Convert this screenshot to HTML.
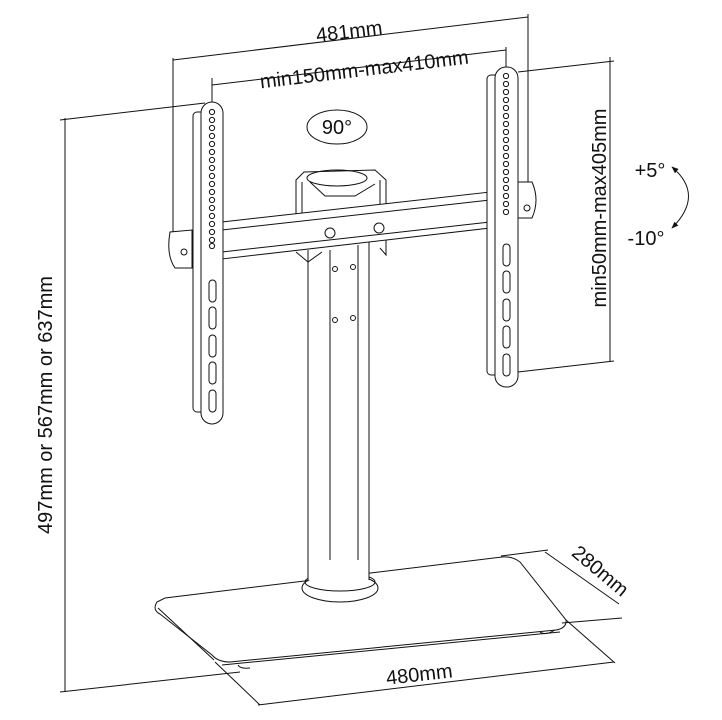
<!DOCTYPE html>
<html><head><meta charset="utf-8"><style>
html,body{margin:0;padding:0;background:#fff}
svg{display:block}
text{font-family:"Liberation Sans","DejaVu Sans",sans-serif;fill:#111}
</style></head><body>
<svg width="722" height="720" viewBox="0 0 722 720" xmlns="http://www.w3.org/2000/svg">
<defs>
<marker id="ah" viewBox="0 0 10 10" refX="9" refY="5" markerWidth="7" markerHeight="7" orient="auto-start-reverse"><path d="M0,1 L10,5 L0,9 z" fill="#111"/></marker>
</defs>
<g fill="none" stroke="#111" stroke-width="1">
<line x1="173" y1="58" x2="173" y2="232"/>
<line x1="528" y1="14" x2="528" y2="190"/>
<line x1="173" y1="60" x2="528" y2="17"/>
<line x1="212" y1="78" x2="212" y2="104"/>
<line x1="506" y1="47" x2="506" y2="72"/>
<line x1="212" y1="85" x2="506" y2="50"/>
<line x1="65" y1="118" x2="65" y2="692"/>
<line x1="60" y1="120" x2="205" y2="103"/>
<line x1="60" y1="692" x2="240" y2="672"/>
<line x1="610" y1="57" x2="610" y2="362"/>
<line x1="518" y1="72" x2="614" y2="61"/>
<line x1="518" y1="372" x2="614" y2="361"/>
<ellipse cx="337" cy="127" rx="30" ry="17"/>
<path d="M672,167 Q705,195 672,228" marker-start="url(#ah)" marker-end="url(#ah)"/>
<line x1="308" y1="250" x2="308" y2="580"/>
<line x1="369" y1="240" x2="369" y2="580"/>
<line x1="330" y1="250" x2="330" y2="580"/>
<line x1="358" y1="245" x2="358" y2="580"/>
<circle cx="335" cy="269" r="2.5"/><circle cx="353" cy="267" r="2.5"/>
<circle cx="335" cy="320" r="2.5"/><circle cx="353" cy="318" r="2.5"/>
<path d="M296,252 L308,262 L322,252"/><path d="M380,248 L386,255 L386,230"/>
<path d="M296,215 L296,180 L304,172 L375,170 L386,180 L386,210"/>
<ellipse cx="337" cy="178" rx="30" ry="8"/>
<path d="M310,182 L325,196 L355,196 L375,184"/>
<line x1="302" y1="182" x2="302" y2="213"/><line x1="380" y1="180" x2="380" y2="208"/>
<path d="M222,222 L490,192 L490,228 L222,259 Z" fill="#fff"/>
<line x1="222" y1="230" x2="490" y2="200"/>
<line x1="222" y1="252" x2="490" y2="222"/>
<circle cx="330" cy="233" r="5"/><circle cx="379" cy="228" r="5"/>
<rect x="193" y="112" width="12" height="300" rx="4" fill="#fff"/>
<rect x="201" y="102" width="22" height="322" rx="11" fill="#fff"/>
<path d="M170,232 Q166,255 175,268 L192,268 L192,230 Z" fill="#fff"/>
<circle cx="184" cy="252" r="3"/>
<rect x="487" y="75" width="12" height="300" rx="4" fill="#fff"/>
<rect x="495" y="67" width="23" height="320" rx="11" fill="#fff"/>
<path d="M518,182 L532,182 Q540,200 532,218 L518,218 Z" fill="#fff"/>
<circle cx="527" cy="208" r="3"/>
<path d="M157,602 Q152,610 160,614 L212,655 Q218,662 230,662 L556,630 Q567,628 566,620 L520,562 Q512,556 502,557 L165,598 Z" fill="#fff"/>
<path d="M158,608 L214,660 M222,665 L560,632"/>
<ellipse cx="340" cy="588" rx="38" ry="14" fill="#fff"/>
<ellipse cx="340" cy="582" rx="35" ry="9"/>
<rect x="308" y="560" width="61" height="20" fill="#fff" stroke="none"/>
<line x1="308" y1="560" x2="308" y2="580"/><line x1="369" y1="560" x2="369" y2="580"/>
<path d="M238,665 Q240,669 250,668"/><path d="M540,632 Q545,636 555,630"/>
<line x1="545" y1="552" x2="619" y2="604"/>
<line x1="501" y1="556" x2="548" y2="550"/>
<line x1="562" y1="623" x2="622" y2="618"/>
<line x1="258" y1="705" x2="614" y2="662"/>
<line x1="215" y1="662" x2="260" y2="705"/>
<line x1="566" y1="620" x2="615" y2="663"/>
</g>
<g fill="none" stroke="#111" stroke-width="1">
<circle cx="212" cy="112" r="2.6"/><circle cx="212" cy="120" r="2.6"/><circle cx="212" cy="128" r="2.6"/><circle cx="212" cy="136" r="2.6"/><circle cx="212" cy="144" r="2.6"/><circle cx="212" cy="152" r="2.6"/><circle cx="212" cy="160" r="2.6"/><circle cx="212" cy="168" r="2.6"/><circle cx="212" cy="176" r="2.6"/><circle cx="212" cy="184" r="2.6"/><circle cx="212" cy="192" r="2.6"/><circle cx="212" cy="200" r="2.6"/><circle cx="212" cy="208" r="2.6"/><circle cx="212" cy="216" r="2.6"/><circle cx="212" cy="224" r="2.6"/><circle cx="212" cy="232" r="2.6"/><circle cx="212" cy="240" r="2.6"/><circle cx="212" cy="246" r="2.6"/>
<rect x="209" y="280" width="7" height="22" rx="3.5"/><rect x="209" y="307" width="7" height="22" rx="3.5"/><rect x="209" y="335" width="7" height="22" rx="3.5"/><rect x="209" y="362" width="7" height="22" rx="3.5"/><rect x="209" y="390" width="7" height="22" rx="3.5"/>
<g transform="translate(294,-36)">
<circle cx="212" cy="112" r="2.6"/><circle cx="212" cy="120" r="2.6"/><circle cx="212" cy="128" r="2.6"/><circle cx="212" cy="136" r="2.6"/><circle cx="212" cy="144" r="2.6"/><circle cx="212" cy="152" r="2.6"/><circle cx="212" cy="160" r="2.6"/><circle cx="212" cy="168" r="2.6"/><circle cx="212" cy="176" r="2.6"/><circle cx="212" cy="184" r="2.6"/><circle cx="212" cy="192" r="2.6"/><circle cx="212" cy="200" r="2.6"/><circle cx="212" cy="208" r="2.6"/><circle cx="212" cy="216" r="2.6"/><circle cx="212" cy="224" r="2.6"/><circle cx="212" cy="232" r="2.6"/><circle cx="212" cy="240" r="2.6"/><circle cx="212" cy="248" r="2.6"/>
<rect x="209" y="280" width="7" height="22" rx="3.5"/><rect x="209" y="307" width="7" height="22" rx="3.5"/><rect x="209" y="335" width="7" height="22" rx="3.5"/><rect x="209" y="362" width="7" height="22" rx="3.5"/><rect x="209" y="390" width="7" height="22" rx="3.5"/>
</g>
</g>
<text x="350" y="38" font-size="20" text-anchor="middle" transform="rotate(-6.9 350 38)">481mm</text>
<text x="365" y="76" font-size="20" text-anchor="middle" transform="rotate(-6.8 365 76)">min150mm-max410mm</text>
<text x="337" y="134" font-size="20" text-anchor="middle">90°</text>
<text x="650" y="177" font-size="20" text-anchor="middle">+5°</text>
<text x="646" y="245" font-size="20" text-anchor="middle">-10°</text>
<text x="0" y="0" font-size="20" text-anchor="middle" transform="translate(606,208) rotate(-90)">min50mm-max405mm</text>
<text x="0" y="0" font-size="20" text-anchor="middle" transform="translate(52,405) rotate(-90)">497mm or 567mm or 637mm</text>
<text x="420" y="681" font-size="20" text-anchor="middle" transform="rotate(-6.5 420 681)">480mm</text>
<text x="0" y="0" font-size="20" text-anchor="middle" transform="translate(596,576) rotate(40)">280mm</text>
</svg>
</body></html>
